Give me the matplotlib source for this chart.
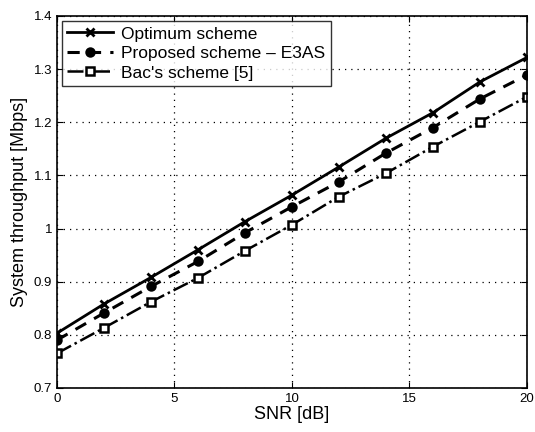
import matplotlib
matplotlib.use("Agg")
import matplotlib.pyplot as plt

plt.rcParams['font.family'] = ['Liberation Sans', 'DejaVu Sans']

snr = [0, 2, 4, 6, 8, 10, 12, 14, 16, 18, 20]
optimum = [0.803, 0.858, 0.908, 0.960, 1.013, 1.063, 1.116, 1.170, 1.218, 1.276, 1.322]
proposed = [0.790, 0.841, 0.891, 0.938, 0.992, 1.041, 1.088, 1.142, 1.190, 1.244, 1.289]
bac = [0.765, 0.813, 0.862, 0.907, 0.958, 1.007, 1.060, 1.104, 1.154, 1.201, 1.248]
labels = ['Optimum scheme', 'Proposed scheme \u2013 E3AS', "Bac's scheme [5]"]

fig = plt.figure(figsize=(5.35, 4.32), dpi=100)
ax = fig.add_axes([0.1065, 0.102, 0.8785, 0.861])

ax.plot(snr, optimum, '-', color='black', lw=2, marker='x', ms=6, mew=2, label=labels[0])
ax.plot(snr, proposed, '--', color='black', lw=2.2, marker='o', ms=6, mew=1.5,
        mfc='black', label=labels[1], dashes=(4, 3))
ax.plot(snr, bac, '-.', color='black', lw=1.8, marker='s', ms=5.5, mew=1.8,
        mfc='white', label=labels[2])

ax.set_xlim(0, 20)
ax.set_ylim(0.7, 1.4)
ax.set_xticks([0, 5, 10, 15, 20])
ax.set_yticks([0.7, 0.8, 0.9, 1.0, 1.1, 1.2, 1.3, 1.4])
ax.set_yticklabels(['0.7', '0.8', '0.9', '1', '1.1', '1.2', '1.3', '1.4'])
ax.tick_params(direction='in', labelsize=9.5, length=4, top=True, right=True)
ax.grid(True, linestyle=(0, (1, 4)), color='black', lw=0.9)
for s in ax.spines.values():
    s.set_linewidth(1.2)

ax.set_xlabel('SNR [dB]', fontsize=13, labelpad=1)
ax.set_ylabel('System throughput [Mbps]', fontsize=13, labelpad=4)

leg = ax.legend(loc='upper left', fontsize=12.5, frameon=True, fancybox=False,
                edgecolor='black', borderaxespad=0.3, handlelength=2.6,
                borderpad=0.3, labelspacing=0.25, handletextpad=0.5)
leg.get_frame().set_linewidth(1.0)

fig.savefig('out.png', dpi=100)
